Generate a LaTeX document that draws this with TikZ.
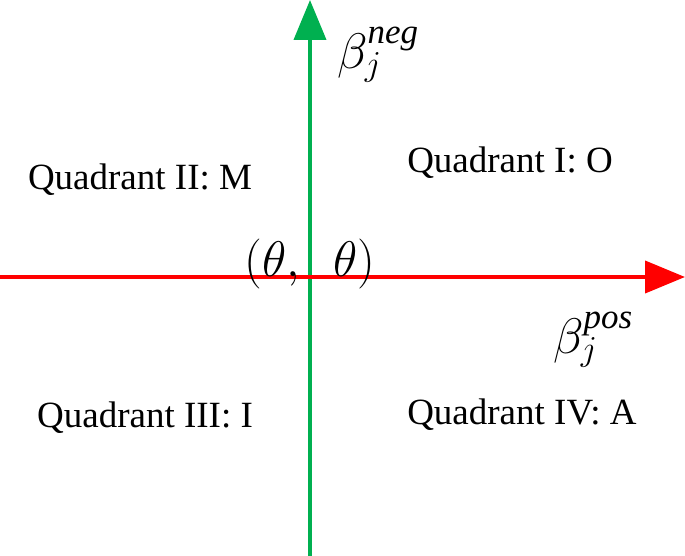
\documentclass[tikz,border=0pt]{standalone}
\usepackage{fix-cm}
\usepackage{fontspec}
\setmainfont{Liberation Serif}
\usetikzlibrary{arrows.meta}
\tikzset{axis/.style={line width=4pt,-{Triangle[length=40pt,width=32pt]}},
lbl/.style={font=\fontsize{37}{40}\selectfont},
mlbl/.style={font=\fontsize{50}{54}\selectfont}}
\begin{document}
\begin{tikzpicture}[x=1pt,y=-1pt]
\useasboundingbox (0,0) rectangle (685,556);
\coordinate (gs) at (310,556); \coordinate (ge) at (310,0);
\coordinate (rs) at (0,277); \coordinate (re) at (685,277);
\draw[axis,draw={rgb,255:red,0;green,176;blue,80},fill={rgb,255:red,0;green,176;blue,80}] (gs) -- (ge);
\draw[axis,draw=red,fill=red] (rs) -- (re);
\node[mlbl] (bn) at (378,55) {$\beta_j^{\mathit{neg}}$};
\node[mlbl] (bp) at (593,340) {$\beta_j^{\mathit{pos}}$};
\node[mlbl] (o) at (310,264) {$(\theta,\ \ \theta)$};
\node[lbl] (q2) at (140,180) {Quadrant II: M};
\node[lbl] (q1) at (510,163) {Quadrant I: O};
\node[lbl] (q3) at (145,418) {Quadrant III: I};
\node[lbl] (q4) at (522,415) {Quadrant IV: A};
\end{tikzpicture}
\end{document}
